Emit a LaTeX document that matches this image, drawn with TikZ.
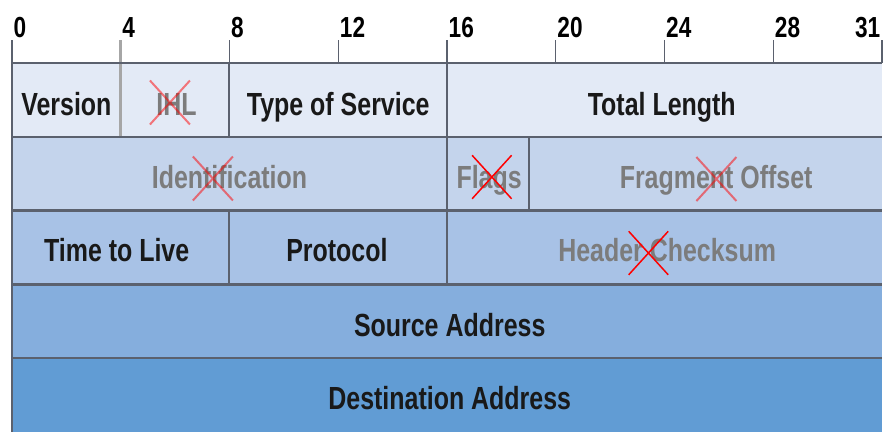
\documentclass[tikz,border=0pt]{standalone}
\usepackage{fontspec}
\setmainfont{Liberation Sans}[FakeStretch=0.78]
\usetikzlibrary{shapes.misc}
\definecolor{riga1}{HTML}{E3EAF6}
\definecolor{riga2}{HTML}{C4D4EC}
\definecolor{riga3}{HTML}{A8C2E6}
\definecolor{riga4}{HTML}{85AEDD}
\definecolor{riga5}{HTML}{619CD4}
\definecolor{bordo}{HTML}{5B616E}
\definecolor{spentotesto}{HTML}{7C7C7C}
\begin{document}
\begin{tikzpicture}[x=27.19pt, y=-73.8pt,
    campo/.style={font=\bfseries\fontsize{32}{32}\selectfont, text=black!90, anchor=base, inner sep=0pt},
    spento/.style={campo, text=spentotesto},
    bit/.style={font=\bfseries\fontsize{29}{29}\selectfont, inner sep=1.5pt},
    croce/.style={draw=red, cross out, line width=1.5pt, minimum width=38pt, minimum height=42pt, inner sep=0pt},
    crocechiara/.style={croce, line width=2pt, draw opacity=0.5}]
    \useasboundingbox (-0.441,-0.854) rectangle (32.074,5);

    % Righe colorate
    \fill[riga1] (0,0) rectangle (32,1);
    \fill[riga2] (0,1) rectangle (32,2);
    \fill[riga3] (0,2) rectangle (32,3);
    \fill[riga4] (0,3) rectangle (32,4);
    \fill[riga5] (0,4) rectangle (32,5);

    % Righello dei bit
    \draw[bordo, line width=1.3pt] (0,-0.31) -- (0,0);
    \draw[bordo, line width=1.3pt] (8,-0.31) -- (8,0);
    \draw[bordo, line width=1.3pt] (12,-0.31) -- (12,0);
    \draw[bordo, line width=1.3pt] (16,-0.31) -- (16,0);
    \draw[bordo, line width=1.3pt] (20,-0.31) -- (20,0);
    \draw[bordo, line width=1.3pt] (24,-0.31) -- (24,0);
    \draw[bordo, line width=1.3pt] (28,-0.31) -- (28,0);
    \draw[bordo, line width=1.3pt] (32,-0.31) -- (32,0);
    \node[bit, anchor=base west] (b0) at (0,-0.34) {0};
    \node[bit, anchor=base west] (b4) at (4,-0.34) {4};
    \node[bit, anchor=base west] (b8) at (8,-0.34) {8};
    \node[bit, anchor=base west] (b12) at (12,-0.34) {12};
    \node[bit, anchor=base west] (b16) at (16,-0.34) {16};
    \node[bit, anchor=base west] (b20) at (20,-0.34) {20};
    \node[bit, anchor=base west] (b24) at (24,-0.34) {24};
    \node[bit, anchor=base west] (b28) at (28,-0.34) {28};
    \node[bit, anchor=base east] (b31) at (32,-0.34) {31};

    % Griglia
    \draw[black!35, line width=3pt] (4,-0.31) -- (4,1);
    \draw[bordo, line width=2.5pt] (0,0) -- (32,0);
    \draw[bordo, line width=2.5pt] (0,1) -- (32,1);
    \draw[bordo, line width=2.5pt] (0,2) -- (32,2);
    \draw[bordo, line width=2.5pt] (0,3) -- (32,3);
    \draw[bordo, line width=2.5pt] (0,4) -- (32,4);
    \draw[bordo, line width=2.5pt] (0,-0.31) -- (0,5);
    \draw[bordo, line width=2pt] (8,0) -- (8,1);
    \draw[bordo, line width=2pt] (16,0) -- (16,3);
    \draw[bordo, line width=2pt] (19,1) -- (19,2);
    \draw[bordo, line width=2pt] (8,2) -- (8,3);

    % Campi dell'intestazione
    \node[campo] (ver) at (2,0.705) {Version};
    \node[spento] (ihl) at (6.05,0.705) {IHL};
    \node[campo] (tos) at (12,0.705) {Type of Service};
    \node[campo] (len) at (23.9,0.705) {Total Length};
    \node[spento] (idf) at (8,1.694) {Identification};
    \node[spento] (flg) at (17.55,1.694) {Flags};
    \node[spento] (off) at (25.9,1.694) {Fragment Offset};
    \node[campo] (ttl) at (3.85,2.696) {Time to Live};
    \node[campo] (pro) at (11.95,2.696) {Protocol};
    \node[spento] (chk) at (24.1,2.696) {Header Checksum};
    \node[campo] (src) at (16.1,3.70) {Source Address};
    \node[campo] (dst) at (16.1,4.70) {Destination Address};

    % Campi eliminati
    \node[crocechiara] (xihl) at (5.81,0.535) {};
    \node[crocechiara] (xidf) at (7.39,1.565) {};
    \node[croce] (xflg) at (17.65,1.545) {};
    \node[crocechiara] (xoff) at (25.91,1.572) {};
    \node[croce] (xchk) at (23.41,2.575) {};
\end{tikzpicture}
\end{document}
